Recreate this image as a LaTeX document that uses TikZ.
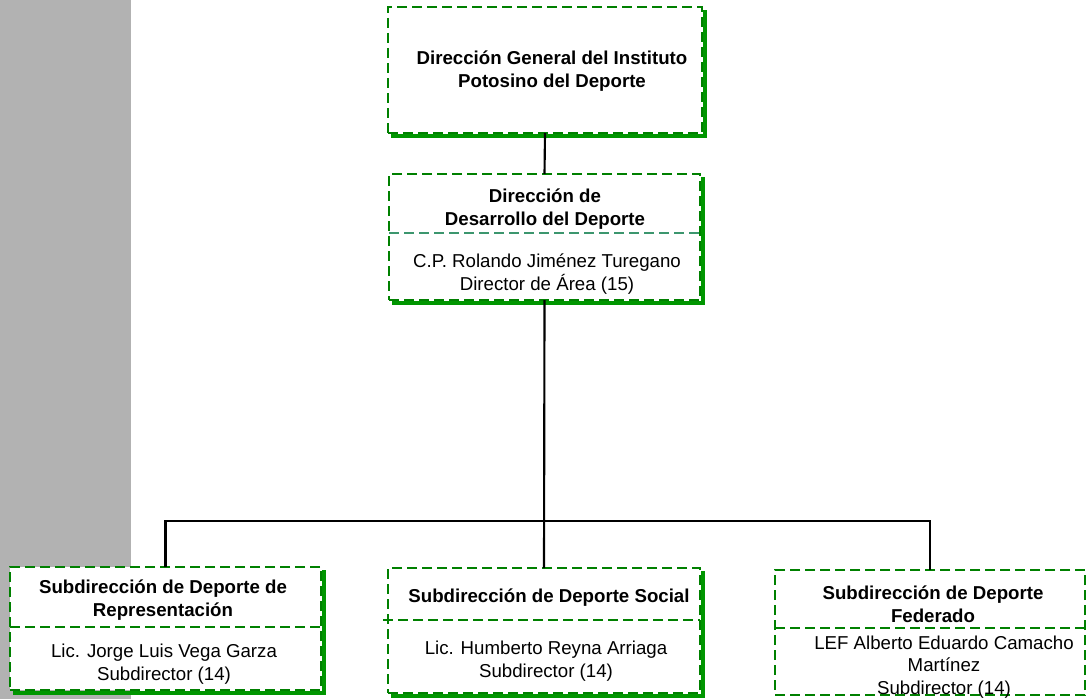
\documentclass[tikz,border=0pt]{standalone}
\usepackage{fontspec}
\setmainfont{Liberation Sans}
\definecolor{boxgreen}{RGB}{0,128,0}
\definecolor{shadowgreen}{RGB}{0,150,0}
\definecolor{splitgreen}{RGB}{60,150,110}
\definecolor{sidegray}{RGB}{178,178,178}
\tikzset{
    orgbox/.style={draw=boxgreen, fill=white, line width=1.8pt, dash pattern=on 7.5pt off 3.75pt, inner sep=0pt, outer sep=0pt},
    boxshadow/.style={draw=shadowgreen, line width=3.5pt},
    divline/.style={draw=boxgreen, line width=1.5pt, dash pattern=on 7.5pt off 3.75pt},
    link/.style={draw=black, line width=1.6pt},
    head/.style={font=\fontsize{14}{17}\selectfont\bfseries, align=center},
    who/.style={font=\fontsize{14}{17}\selectfont, align=center}
}
\begin{document}
\begin{tikzpicture}[x=0.75pt, y=-0.75pt]
    \useasboundingbox (0,0) rectangle (1087,699);
    \fill[sidegray] (0,0) rectangle (131,699);

    \node[orgbox, minimum width=235.5pt, minimum height=94.5pt] (dirgen) at (545,70) {};
    \draw[boxshadow] ([shift={(3,3)}]dirgen.south west) -- ([shift={(3,3)}]dirgen.south east) -- ([shift={(3,3)}]dirgen.north east);
    \node[head] (dirgentxt) at (552,71) {Dirección General del Instituto\\Potosino del Deporte};

    \node[orgbox, minimum width=233.25pt, minimum height=94.5pt] (devdep) at (544.5,237) {};
    \draw[boxshadow] ([shift={(3,3)}]devdep.south west) -- ([shift={(3,3)}]devdep.south east) -- ([shift={(3,3)}]devdep.north east);
    \draw[divline, draw=splitgreen] ([shift={(0,-4)}]devdep.west) -- ([shift={(0,-4)}]devdep.east);
    \node[head] (devdeptxt) at (545,209) {Dirección de\\Desarrollo del Deporte};
    \node[who] (devdepwho) at (547,274) {C.P. Rolando Jiménez Turegano\\Director de Área (15)};

    \node[orgbox, minimum width=233.25pt, minimum height=92.25pt] (subrep) at (165.5,628.5) {};
    \draw[boxshadow] ([shift={(3,3)}]subrep.south west) -- ([shift={(3,3)}]subrep.south east) -- ([shift={(3,3)}]subrep.north east);
    \draw[divline] ([shift={(0,-1.5)}]subrep.west) -- ([shift={(0,-1.5)}]subrep.east);
    \node[head] (subreptxt) at (163,600) {Subdirección de Deporte de\\Representación};
    \node[who] (subrepwho) at (164,664) {Lic. Jorge Luis Vega Garza\\Subdirector (14)};

    \node[orgbox, minimum width=234pt, minimum height=93.75pt] (subsoc) at (544,630.5) {};
    \draw[boxshadow] ([shift={(3,3)}]subsoc.south west) -- ([shift={(3,3)}]subsoc.south east) -- ([shift={(3,3)}]subsoc.north east);
    \draw[divline] ([shift={(-5,-10.5)}]subsoc.west) -- ([shift={(0,-10.5)}]subsoc.east);
    \node[head] (subsoctxt) at (549,598) {Subdirección de Deporte Social};
    \node[who] (subsocwho) at (546,661) {Lic. Humberto Reyna Arriaga\\Subdirector (14)};

    \node[orgbox, minimum width=232.5pt, minimum height=93.75pt] (subfed) at (930,632.5) {};
    \draw[divline] ([shift={(0,-4.5)}]subfed.west) -- ([shift={(0,-4.5)}]subfed.east);
    \node[head] (subfedtxt) at (933,604) {Subdirección de Deporte\\Federado};
    \node[who] (subfedwho) at (944,667) {LEF Alberto Eduardo Camacho\\Martínez\\Subdirector (14)};

    \coordinate (bus) at (544,521);
    \draw[link] (dirgen.south) -- (devdep.north);
    \draw[link] (devdep.south) -- (subsoc.north);
    \draw[link] (subrep.north) -- (subrep.north |- bus) -- (subfed.north |- bus) -- (subfed.north);
\end{tikzpicture}
\end{document}
